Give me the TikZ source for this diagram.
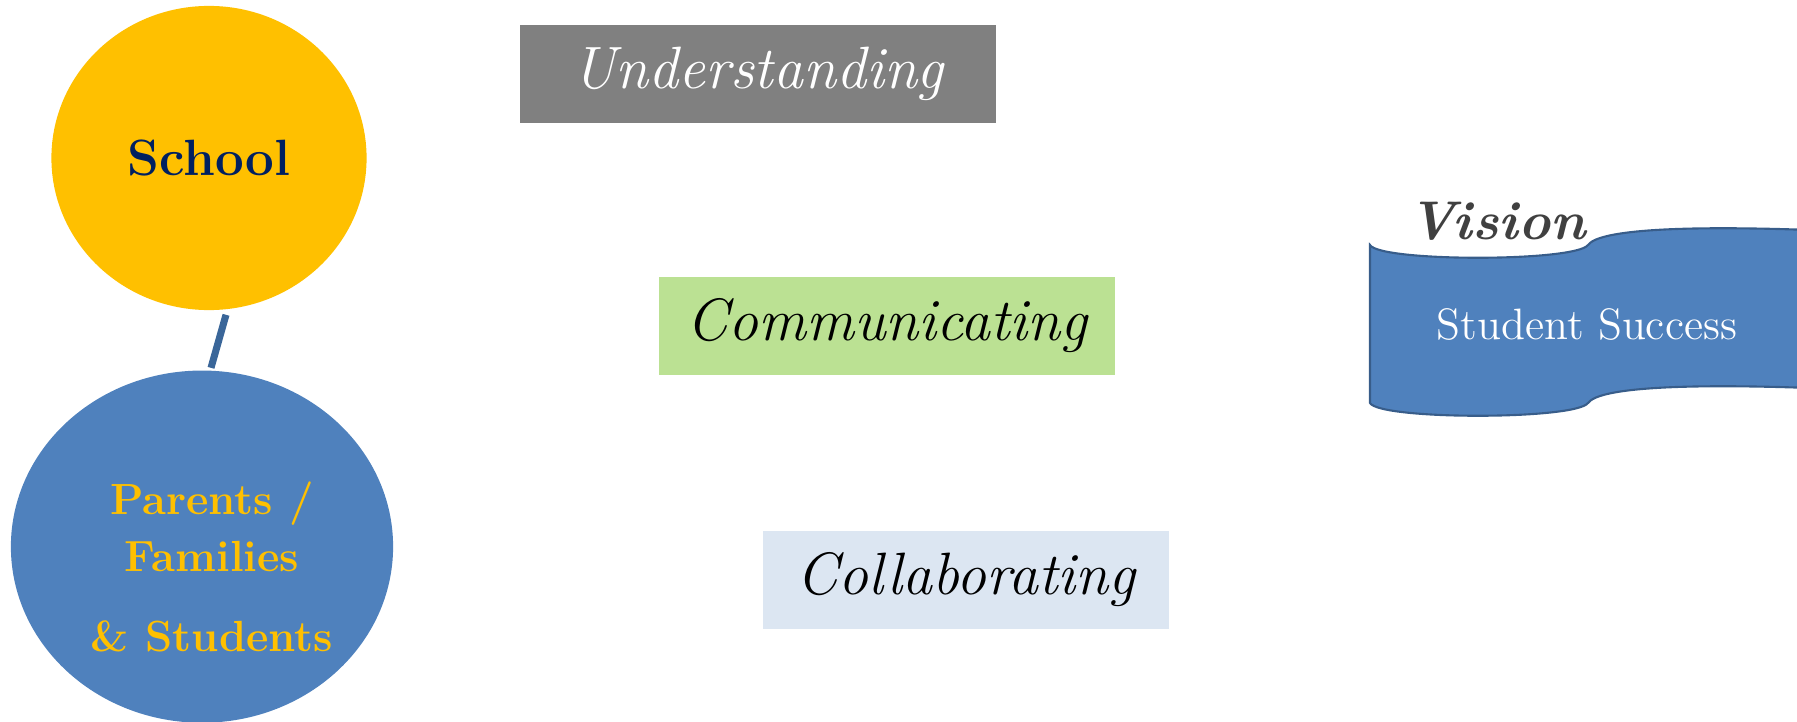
\documentclass[tikz,border=0pt]{standalone}
\usetikzlibrary{shapes.geometric}
\usetikzlibrary{positioning}
\definecolor{schoolgold}{HTML}{FFC000}
\definecolor{navy}{HTML}{002060}
\definecolor{famblue}{HTML}{4F81BD}
\definecolor{linkblue}{HTML}{3A6699}
\definecolor{bannerline}{HTML}{385D8A}
\definecolor{undergray}{HTML}{808080}
\definecolor{commgreen}{HTML}{BBE193}
\definecolor{collblue}{HTML}{DCE6F2}
\definecolor{visiongray}{HTML}{404040}
\tikzset{x=0.01cm, y=-0.01cm, % One unit is one pixel of the slide, y runs down
      party/.style={ % The two ellipses on the left
      ellipse,
      inner sep=0pt},
      stepbox/.style={ % The three coloured stages
      rectangle,
      inner sep=0pt,
      minimum height=0.98cm,
      font=\fontsize{17}{20}\selectfont\itshape},
      link/.style={ % Short bar between the ellipses
      draw=linkblue,
      line width=2pt}}

\begin{document}
\begin{tikzpicture}
      \useasboundingbox (0,0) rectangle (1797,721);
      \node[party, fill=schoolgold, minimum width=3.15cm, minimum height=3.04cm, text=navy, font=\fontsize{14.5}{17}\selectfont\bfseries] (school) at (209,158) {School};
      \node[party, fill=famblue, minimum width=3.82cm, minimum height=3.52cm, below=0.59cm of school, xshift=-0.07cm] (parents) {};
      \node[text=schoolgold, align=center, font=\fontsize{12.4}{16.2}\selectfont\bfseries] (famtext) at ([xshift=0.1cm, yshift=-0.2cm]parents.center) {Parents /\\Families\\[6.6pt]\& Students};
      \draw[link] ([xshift=0.17cm, yshift=-0.04cm]school.south) -- ([xshift=0.09cm, yshift=0.02cm]parents.north);
      \node[stepbox, fill=undergray, text=white, minimum width=4.75cm] (underst) at (758,74) {Understanding};
      \node[stepbox, fill=commgreen, minimum width=4.55cm] (commun) at (887,326) {Communicating};
      \node[stepbox, fill=collblue, minimum width=4.06cm, minimum height=0.97cm] (collab) at (966,580) {Collaborating};
      % vision banner
      \draw[fill=famblue, draw=bannerline, line width=0.6pt] (1370,245) .. controls (1380,262) and (1575,262) .. (1588,245) .. controls (1600,228) and (1700,226) .. (1810,230) -- (1810,388) .. controls (1700,384) and (1600,386) .. (1588,403) .. controls (1575,420) and (1380,420) .. (1370,403) -- cycle;
      \node[text=white, font=\fontsize{12.5}{15}\selectfont] (goal) at (1587,324) {Student Success};
      \node[text=visiongray, font=\fontsize{15.5}{18}\selectfont\bfseries\itshape] (vision) at (1497,221) {Vision};
    \end{tikzpicture}
\end{document}
